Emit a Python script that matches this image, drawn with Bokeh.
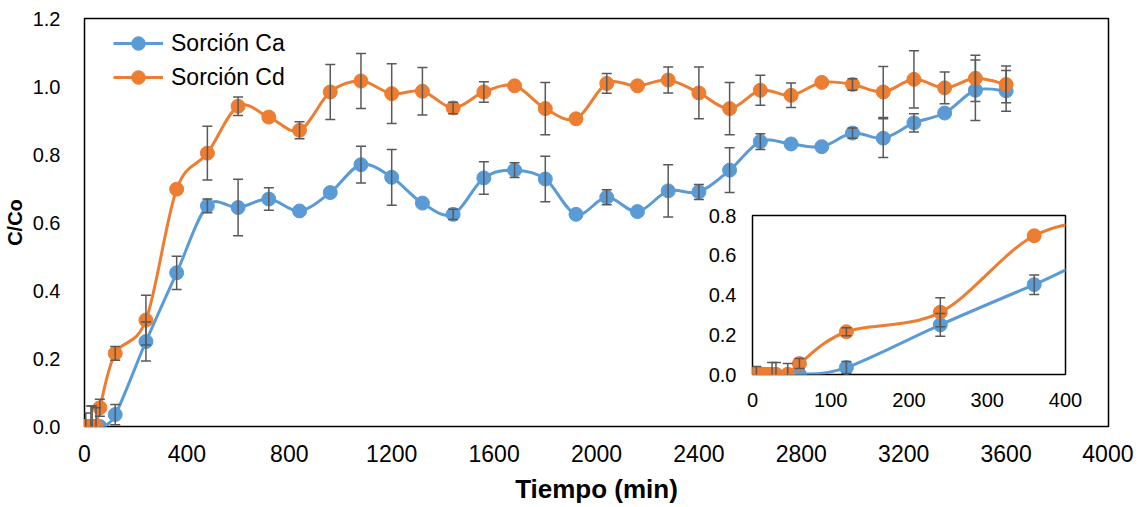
from bokeh.plotting import figure
from bokeh.models import (Whisker, ColumnDataSource, Legend, LegendItem, TeeHead,
                          Range1d, FixedTicker, NumeralTickFormatter)
from bokeh.layouts import column
from bokeh.embed import file_html
from bokeh.resources import INLINE

# ---------------- data ----------------
time_min = [0, 5, 10, 15, 20, 25, 30, 45, 60, 120, 240, 360, 480, 600, 720, 840, 960,
            1080, 1200, 1320, 1440, 1560, 1680, 1800, 1920, 2040, 2160, 2280, 2400,
            2520, 2640, 2760, 2880, 3000, 3120, 3240, 3360, 3480, 3600]
sorcion_ca = [0, 0, 0, 0, 0, 0, 0, 0, 0.0, 0.035, 0.25, 0.452, 0.649, 0.644, 0.669, 0.634,
              0.688, 0.770, 0.733, 0.657, 0.624, 0.731, 0.754, 0.728, 0.624, 0.674, 0.632,
              0.693, 0.690, 0.754, 0.838, 0.831, 0.823, 0.863, 0.848, 0.893, 0.922, 0.989, 0.987]
sorcion_cd = [0, 0, 0, 0, 0, 0, 0, 0, 0.055, 0.215, 0.313, 0.698, 0.804, 0.942, 0.910, 0.871,
              0.984, 1.016, 0.979, 0.986, 0.937, 0.984, 1.002, 0.935, 0.905, 1.009, 1.002,
              1.019, 0.981, 0.935, 0.989, 0.974, 1.012, 1.006, 0.984, 1.021, 0.996, 1.024, 1.006]
err_ca = [0, 0.04, 0, 0, 0, 0, 0.06, 0, 0, 0.03, 0.057, 0.049, 0.02, 0.083, 0.033, 0,
          0, 0.054, 0.082, 0, 0.015, 0.048, 0.022, 0.067, 0, 0.022, 0,
          0.077, 0.022, 0.066, 0.023, 0, 0, 0.015, 0.057, 0.027, 0, 0.089, 0.06]
err_cd = [0, 0, 0, 0, 0, 0.06, 0, 0.055, 0.025, 0.02, 0.073, 0, 0.079, 0.027, 0, 0.025,
          0.081, 0.081, 0.088, 0.07, 0.017, 0.03, 0, 0.077, 0, 0.029, 0,
          0.038, 0.076, 0.077, 0.044, 0.036, 0, 0.017, 0.075, 0.084, 0.047, 0.068, 0.054]
labels = ["Sorción Ca", "Sorción Cd"]
x_ticks_main = [0, 400, 800, 1200, 1600, 2000, 2400, 2800, 3200, 3600, 4000]
y_ticks_main = [0, 0.2, 0.4, 0.6, 0.8, 1.0, 1.2]
x_ticks_inset = [0, 100, 200, 300, 400]
y_ticks_inset = [0, 0.2, 0.4, 0.6, 0.8]

BLUE = "#5B9BD5"
ORANGE = "#ED7D31"
GREY = "#595959"
FONT = "Liberation Sans"


def smooth_segments(xs, ys):
    """Bezier control points (Excel-like smoothing) between consecutive data points."""
    n = len(xs)
    d = dict(x0=[], y0=[], x1=[], y1=[], cx0=[], cy0=[], cx1=[], cy1=[])
    for i in range(n - 1):
        xp, yp = (xs[i - 1], ys[i - 1]) if i > 0 else (xs[i], ys[i])
        xn, yn = (xs[i + 2], ys[i + 2]) if i + 2 < n else (xs[i + 1], ys[i + 1])
        d["x0"].append(xs[i]); d["y0"].append(ys[i])
        d["x1"].append(xs[i + 1]); d["y1"].append(ys[i + 1])
        d["cx0"].append(xs[i] + (xs[i + 1] - xp) / 6.0)
        d["cy0"].append(ys[i] + (ys[i + 1] - yp) / 6.0)
        d["cx1"].append(xs[i + 1] - (xn - xs[i]) / 6.0)
        d["cy1"].append(ys[i + 1] - (yn - ys[i]) / 6.0)
    return ColumnDataSource(d)


def err_source(xs, ys, es):
    b, u, l = [], [], []
    for x, y, e in zip(xs, ys, es):
        if e > 0:
            b.append(x); u.append(y + e); l.append(y - e)
    return ColumnDataSource(dict(base=b, upper=u, lower=l))


def add_series(fig, ys, es, color, msize):
    r_line = fig.bezier(x0="x0", y0="y0", x1="x1", y1="y1", cx0="cx0", cy0="cy0",
                        cx1="cx1", cy1="cy1", source=smooth_segments(time_min, ys),
                        line_color=color, line_width=3)
    r_pts = fig.scatter(time_min, ys, size=msize, fill_color=color, line_color=color,
                        marker="circle")
    w = Whisker(base="base", upper="upper", lower="lower", source=err_source(time_min, ys, es),
                line_color=GREY, line_width=1.5, level="annotation",
                upper_head=TeeHead(size=10, line_color=GREY, line_width=1.5),
                lower_head=TeeHead(size=10, line_color=GREY, line_width=1.5))
    fig.add_layout(w)
    return r_line, r_pts


def style_axes(fig, xt, yt, xsize, ysize):
    fig.xgrid.grid_line_color = None
    fig.ygrid.grid_line_color = None
    fig.outline_line_color = "black"
    fig.outline_line_width = 1.5
    for ax, fs in ((fig.xaxis[0], xsize), (fig.yaxis[0], ysize)):
        ax.axis_line_color = None
        ax.major_tick_line_color = None
        ax.minor_tick_line_color = None
        ax.major_label_text_font = FONT
        ax.major_label_text_font_size = fs
        ax.major_label_text_color = "black"
    fig.xaxis[0].ticker = FixedTicker(ticks=xt)
    fig.yaxis[0].ticker = FixedTicker(ticks=yt)
    fig.yaxis[0].formatter = NumeralTickFormatter(format="0.0")


# ---------------- main figure ----------------
p = figure(width=1133, height=506, x_range=Range1d(0, 4000), y_range=Range1d(0, 1.2),
           output_backend="svg", toolbar_location=None,
           min_border_left=84, min_border_right=25, min_border_top=18, min_border_bottom=79)
style_axes(p, x_ticks_main, y_ticks_main, "23px", "20px")
p.xaxis[0].major_label_standoff = 12
p.yaxis[0].major_label_standoff = 18
p.xaxis[0].axis_label = "Tiempo (min)"
p.yaxis[0].axis_label = "C/Co"
for ax, sz, so in ((p.xaxis[0], "26px", 9), (p.yaxis[0], "20px", 4)):
    ax.axis_label_text_font = FONT
    ax.axis_label_text_font_style = "bold"
    ax.axis_label_text_font_size = sz
    ax.axis_label_text_color = "black"
    ax.axis_label_standoff = so

ca_line, ca_pts = add_series(p, sorcion_ca, err_ca, BLUE, 14)
cd_line, cd_pts = add_series(p, sorcion_cd, err_cd, ORANGE, 14)

legend = Legend(items=[LegendItem(label=labels[0], renderers=[ca_line, ca_pts]),
                       LegendItem(label=labels[1], renderers=[cd_line, cd_pts])],
                location=(29, 332), glyph_width=50, glyph_height=34, spacing=0,
                padding=0, margin=0, label_standoff=8, border_line_color=None,
                background_fill_alpha=0, label_text_font=FONT,
                label_text_font_size="23px", label_text_color="black")
p.add_layout(legend)

# ---------------- inset ----------------
q = figure(width=422, height=211, x_range=Range1d(0, 400), y_range=Range1d(0, 0.8),
           output_backend="svg", toolbar_location=None,
           min_border_left=84, min_border_right=25, min_border_top=12, min_border_bottom=40)
style_axes(q, x_ticks_inset, y_ticks_inset, "20px", "20px")
q.xaxis[0].major_label_standoff = 12
q.yaxis[0].major_label_standoff = 10
q.border_fill_alpha = 0
q.background_fill_color = "white"
add_series(q, sorcion_ca, err_ca, BLUE, 14)
add_series(q, sorcion_cd, err_cd, ORANGE, 14)
q.styles = {"position": "absolute", "left": "668px", "top": "203px", "z-index": "10"}

layout = column(p, q)
layout.styles = {"position": "relative"}

open("out.html", "w").write(file_html(layout, INLINE))
